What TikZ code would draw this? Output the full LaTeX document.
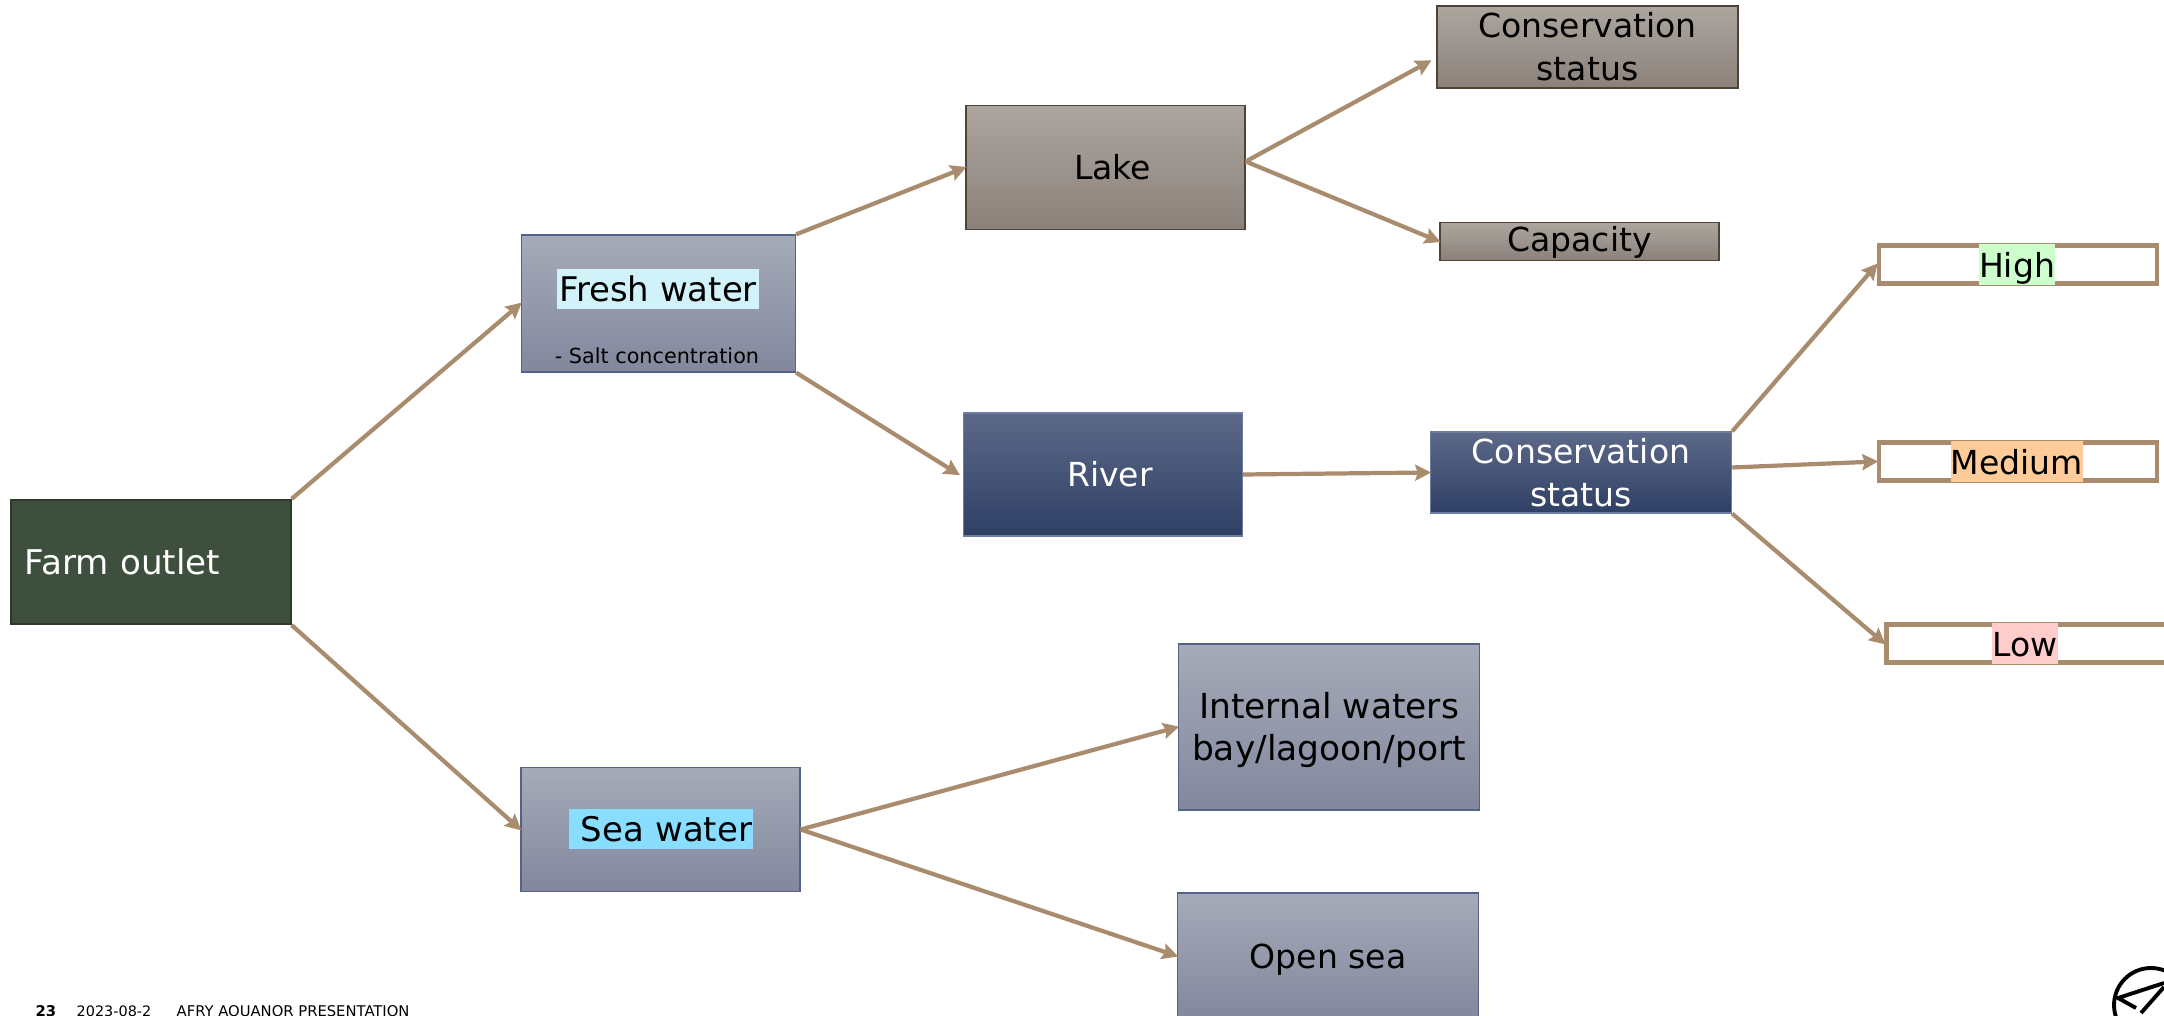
\documentclass[tikz,border=0pt]{standalone}
\usepackage{fontspec}
\setmainfont{DejaVu Sans}
\usetikzlibrary{arrows.meta}
\definecolor{arrowtan}{HTML}{A98B6D}
\definecolor{farmgreen}{HTML}{3F4F3D}
\definecolor{farmedge}{HTML}{2C3A28}
\newcommand{\boxfont}{\fontsize{9.4}{12.2}\selectfont}
\newcommand{\markfont}{\fontsize{9.65}{12}\selectfont}
\tikzset{
    greybox/.style={shape=rectangle,line width=0.35pt,align=center,inner sep=0pt,font=\boxfont},
    waterbox/.style={greybox,draw={rgb,255:red,85;green,98;blue,135},top color={rgb,255:red,166;green,171;blue,185},bottom color={rgb,255:red,130;green,135;blue,157}},
    lakebox/.style={greybox,draw={rgb,255:red,80;green,66;blue,52},top color={rgb,255:red,172;green,166;blue,159},bottom color={rgb,255:red,139;green,129;blue,123}},
    riverbox/.style={greybox,text=white,draw={rgb,255:red,110;green,125;blue,160},top color={rgb,255:red,92;green,104;blue,136},bottom color={rgb,255:red,47;green,64;blue,101}},
    levelbox/.style={shape=rectangle,draw=arrowtan,fill=white,line width=1.2pt,minimum width=2.78cm,minimum height=0.38cm,inner sep=0pt},
    marktext/.style={inner xsep=0pt,inner ysep=0pt,text height=9.3pt,text depth=2.1pt,font=\boxfont},
    flow/.style={draw=arrowtan,line width=1.2pt,shorten >=-0.4pt,-{Stealth[length=1.6mm, width=1.6mm, inset=0.25mm]}}
}
\begin{document}
\begin{tikzpicture}[x=0.01cm,y=-0.01cm]
    \useasboundingbox (0,0) rectangle (2164,1016);
    \clip (0,0) rectangle (2164,1016);

    \node[shape=rectangle,draw=farmedge,fill=farmgreen,line width=0.6pt,minimum width=2.79cm,minimum height=1.24cm,text=white,align=left,inner sep=0pt,font=\fontsize{9.7}{12}\selectfont,text width=2.52cm] (farm) at (151,562) {Farm outlet};

    \node[waterbox,minimum width=2.74cm,minimum height=1.37cm] (fresh) at (658.5,303.5) {};
    \node[waterbox,minimum width=2.79cm,minimum height=1.24cm] (sea) at (660.5,829.5) {};
    \node[lakebox,minimum width=2.79cm,minimum height=1.24cm] (lake) at (1105.5,167.5) {\hspace*{4pt}Lake};
    \node[riverbox,minimum width=2.79cm,minimum height=1.23cm] (river) at (1103,474.5) {\hspace*{4pt}River};

    \node[lakebox,minimum width=3.01cm,minimum height=0.82cm] (lakestatus) at (1587.5,47) {Conservation\\status};
    \node[lakebox,minimum width=2.79cm,minimum height=0.38cm,text height=7.9pt,text depth=2pt] (capacity) at (1579.5,241.5) {Capacity};
    \node[riverbox,minimum width=3.01cm,minimum height=0.81cm] (riverstatus) at (1581,472.5) {Conservation\\status};

    \node[levelbox] (high) at (2018,264.5) {};
    \node[levelbox] (medium) at (2018,461.5) {};
    \node[levelbox,minimum width=2.85cm] (low) at (2029,643.5) {};
    \node[waterbox,minimum width=3.01cm,minimum height=1.66cm,font=\fontsize{9.8}{12}\selectfont] (internal) at (1329,727) {\rule{0pt}{9.3pt}Internal waters\\bay/lagoon/port};
    \node[waterbox,minimum width=3.01cm,minimum height=1.26cm,text height=9.3pt,text depth=2pt] (open) at (1328,956) {Open sea};

    % labels on their coloured marks
    \node[marktext,font=\markfont,fill={rgb,255:red,210;green,242;blue,249},minimum width=2.01cm] (freshlabel) at (658,289) {Fresh water};
    \node[inner sep=0pt,font=\fontsize{5.9}{7}\selectfont] (saltlabel) at (657,356) {- Salt concentration};
    \node[marktext,font=\markfont,fill={rgb,255:red,137;green,222;blue,255},text width=1.82cm,align=right,inner xsep=0.01cm] (sealabel) at (661,829) {Sea water};
    \node[marktext,fill={rgb,255:red,204;green,255;blue,204}] (highlabel) at (2017,264.5) {High};
    \node[marktext,fill={rgb,255:red,255;green,204;blue,153}] (mediumlabel) at (2017,461.5) {Medium};
    \node[marktext,fill={rgb,255:red,255;green,204;blue,204}] (lowlabel) at (2025,643.5) {Low};

    \path (farm.north east) edge[flow] (fresh.west);
    \path (farm.south east) edge[flow] (sea.west);
    \path (fresh.north east) edge[flow] (lake.west);
    \path (fresh.south east) edge[flow] ([shift={(-4,0)}]river.west);
    \path ([shift={(0,-6)}]lake.east) edge[flow] ([shift={(-6,14)}]lakestatus.west);
    \path ([shift={(0,-6)}]lake.east) edge[flow] (capacity.west);
    \path (river.east) edge[flow] (riverstatus.west);
    \path (riverstatus.north east) edge[flow] (high.west);
    \path ([shift={(0,-5)}]riverstatus.east) edge[flow] (medium.west);
    \path (riverstatus.south east) edge[flow] (low.west);
    \path (sea.east) edge[flow] (internal.west);
    \path (sea.east) edge[flow] (open.west);

    % footer
    \node[anchor=base west,inner sep=0pt,font=\fontsize{4.2}{5}\selectfont\bfseries] (page) at (35,1016) {23};
    \node[anchor=base west,inner sep=0pt,font=\fontsize{4.1}{5}\selectfont] (date) at (76,1016) {2023-08-2};
    \node[anchor=base west,inner sep=0pt,font=\fontsize{4.2}{5}\selectfont] (title) at (176,1016) {AFRY AQUANOR PRESENTATION};

    % logo
    \draw[line width=1.1pt] (2151,1005) circle (37);
    \draw[line width=1.1pt] (2164,983) -- (2118,998) -- (2136,1008);
    \draw[line width=1.1pt] (2141,1013) -- (2164,987);
\end{tikzpicture}
\end{document}
